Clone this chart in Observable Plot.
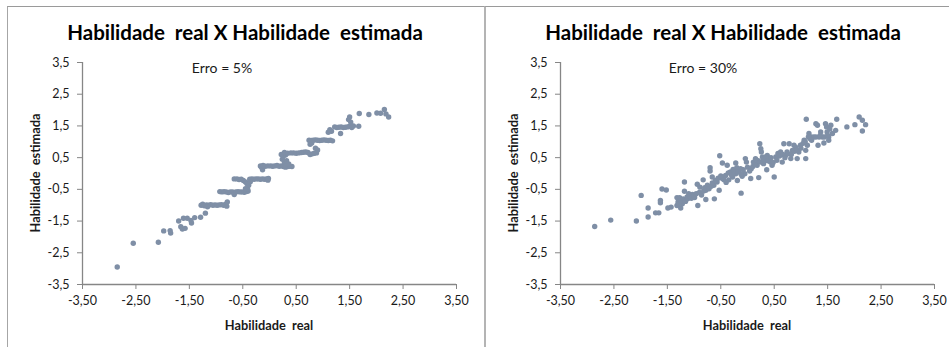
<!DOCTYPE html>
<html><head><meta charset="utf-8">
<script src="https://cdn.jsdelivr.net/npm/d3@7"></script>
<script src="https://cdn.jsdelivr.net/npm/@observablehq/plot@0.6"></script>
<style>
html,body{margin:0;padding:0;background:#fff;}
#page{position:relative;width:949px;height:347px;overflow:hidden;background:#fff;}
.panel{position:absolute;top:6px;height:345px;border-top:1px solid #9a9a9a;}
#p1{left:7px;width:477px;border-left:1px solid #a6a6a6;}
#p2{left:484px;width:470px;border-left:2px solid #b4b4b4;}
.chart{position:absolute;top:0;}
#overlay{position:absolute;left:0;top:0;pointer-events:none;}
</style>
</head><body>
<div id="page">
  <div class="panel" id="p1"></div>
  <div class="panel" id="p2"></div>
  <div class="chart" id="c1" style="left:0px"></div>
  <div class="chart" id="c2" style="left:478px"></div>
</div>
<script>
// ---------- data ----------
const chartTitle = "Habilidade\u00a0 real X Habilidade\u00a0 estimada";
const xAxisTitle = "Habilidade\u00a0 real";
const yAxisTitle = "Habilidade\u00a0 estimada";
const panelNotes = ["Erro = 5%", "Erro = 30%"];

const xTickValues = [-3.5, -2.5, -1.5, -0.5, 0.5, 1.5, 2.5, 3.5];
const xTickLabels = ["-3,50", "-2,50", "-1,50", "-0,50", "0,50", "1,50", "2,50", "3,50"];
const yTickValues = [-3.5, -2.5, -1.5, -0.5, 0.5, 1.5, 2.5, 3.5];
const yTickLabels = ["-3,5", "-2,5", "-1,5", "-0,5", "0,5", "1,5", "2,5", "3,5"];

// [habilidade real, habilidade estimada] — Erro = 5%
const pontosErro5 = [
  [-2.85,-2.95],[-2.55,-2.20],[-2.08,-2.17],[-1.98,-1.81],[-1.86,-1.80],[-1.85,-1.88],
  [-1.70,-1.50],[-1.66,-1.68],[-1.63,-1.75],[-1.58,-1.73],[-1.61,-1.41],[-1.54,-1.41],
  [-1.47,-1.48],[-1.46,-1.56],[-1.40,-1.39],[-1.29,-1.38],[-1.20,-1.25],
  [-1.28,-1.00],[-1.25,-0.97],[-1.22,-1.02],[-1.18,-0.99],[-1.14,-1.00],[-1.10,-0.98],
  [-1.06,-1.00],[-1.02,-0.99],[-0.98,-1.00],[-0.94,-0.99],[-0.90,-0.98],[-0.86,-1.00],
  [-0.82,-0.97],[-0.80,-1.03],[-0.79,-0.90],[-1.16,-1.05],
  [-0.93,-0.57],[-0.89,-0.58],[-0.85,-0.57],[-0.81,-0.58],[-0.77,-0.60],[-0.73,-0.58],
  [-0.69,-0.58],[-0.66,-0.66],[-0.63,-0.58],[-0.59,-0.57],[-0.55,-0.58],[-0.51,-0.58],
  [-0.47,-0.59],[-0.43,-0.57],[-0.40,-0.55],[-0.41,-0.48],[-0.45,-0.48],
  [-0.49,-0.22],[-0.45,-0.27],[-0.42,-0.32],[-0.39,-0.37],
  [-0.66,-0.17],[-0.61,-0.17],[-0.57,-0.19],[-0.53,-0.18],[-0.37,-0.18],[-0.33,-0.17],
  [-0.29,-0.18],[-0.25,-0.17],[-0.21,-0.17],[-0.17,-0.18],[-0.13,-0.17],[-0.09,-0.18],
  [-0.05,-0.17],[-0.02,-0.16],[-0.03,-0.21],[-0.36,-0.26],
  [-0.15,0.20],[-0.13,0.12],
  [-0.17,0.24],[-0.12,0.25],[-0.08,0.23],[-0.03,0.24],[0.02,0.24],[0.06,0.23],[0.10,0.24],
  [0.14,0.25],[0.18,0.23],[0.22,0.24],[0.26,0.22],[0.30,0.20],[0.34,0.22],[0.38,0.23],
  [0.42,0.22],[0.28,0.35],[0.32,0.40],[0.36,0.30],[0.24,0.45],[0.26,0.55],[0.30,0.58],
  [0.22,0.60],[0.28,0.66],[0.34,0.64],[0.40,0.65],[0.45,0.65],[0.50,0.64],[0.55,0.65],
  [0.60,0.66],[0.64,0.67],[0.68,0.68],[0.72,0.66],[0.76,0.60],[0.80,0.62],[0.84,0.64],
  [0.88,0.65],[0.90,0.74],[0.86,0.80],
  [0.74,1.05],[0.78,1.04],[0.82,1.05],[0.86,1.06],[0.90,1.05],[0.94,1.04],[0.98,1.05],
  [1.02,1.06],[1.06,1.05],[1.10,1.04],[1.14,1.05],[1.18,1.03],[0.76,0.92],[0.79,0.96],
  [1.10,1.30],[1.13,1.38],[1.16,1.33],
  [1.22,1.47],[1.26,1.45],[1.30,1.46],[1.34,1.47],[1.38,1.45],[1.42,1.46],[1.46,1.47],
  [1.50,1.49],[1.54,1.45],[1.57,1.50],[1.52,1.62],[1.48,1.70],[1.33,1.26],[1.67,1.49],
  [1.50,1.78],[1.68,1.89],[1.86,1.86],[2.01,1.91],[2.08,1.90],[2.15,2.02],[2.18,1.88],[2.23,1.78]
];

// [habilidade real, habilidade estimada] — Erro = 30%
const pontosErro30 = [
  [-2.86,-1.67],[-2.56,-1.47],[-2.08,-1.50],[-1.99,-0.69],[-1.86,-1.09],[-1.86,-1.37],
  [-1.72,-1.24],[-1.66,-1.24],[-1.63,-0.85],[-1.63,-0.92],[-1.60,-0.49],[-1.52,-0.52],
  [-1.49,-1.09],[-1.43,-1.06],[-1.32,-0.76],[-1.27,-0.76],[-1.32,-1.01],[-1.25,-1.09],
  [-1.22,-0.95],[-1.19,-0.85],[-1.18,-0.27],[-1.18,-0.56],[-1.13,-0.74],[-1.10,-0.64],
  [-1.03,-0.66],[-0.99,-0.76],[-0.94,-0.34],[-0.93,-1.01],[-0.89,-0.43],[-0.83,-0.20],
  [-0.78,-0.53],[-0.78,-0.82],[-0.75,-0.37],[-0.70,0.18],[-0.70,0.08],[-0.66,-0.11],
  [-0.63,-0.37],[-0.62,-0.80],[-0.57,-0.27],[-0.53,-0.53],[-0.52,0.56],[-0.47,0.33],
  [-0.47,-0.16],[-0.41,-0.06],[-0.38,0.26],[-0.35,-0.20],[-0.32,0.05],[-0.28,-0.11],
  [-0.27,0.13],[-0.22,0.33],[-0.22,-0.01],[-0.19,-0.22],[-0.16,0.10],[-0.13,0.15],
  [-0.12,-0.62],[-0.10,-0.09],[-0.05,-0.01],[-0.04,0.47],[-0.02,0.36],[0.06,-0.16],
  [0.07,0.15],[0.11,0.36],[0.15,0.47],[0.18,0.26],[0.21,-0.13],[0.23,0.94],[0.25,0.78],
  [0.26,0.68],[0.28,0.52],[0.30,0.31],[0.32,0.41],[0.36,0.12],[0.37,0.57],[0.40,0.47],
  [0.43,0.36],[0.46,0.26],[0.50,-0.11],[0.53,0.52],[0.57,0.63],[0.62,0.68],[0.65,0.36],
  [0.68,0.94],[0.71,0.57],[0.74,0.68],[0.78,0.94],[0.81,0.47],[0.84,0.73],[0.87,0.89],
  [0.90,0.83],[0.93,0.47],[0.96,0.68],[0.99,0.89],[1.06,1.05],[1.09,0.47],[1.09,0.73],
  [1.10,1.71],[1.12,0.89],[1.15,1.26],[1.17,1.10],[1.19,1.15],[1.24,1.15],[1.28,1.57],
  [1.31,1.52],[1.32,0.89],[1.34,1.15],[1.37,1.31],[1.40,1.15],[1.43,0.96],[1.46,1.57],
  [1.48,1.47],[1.49,1.31],[1.52,1.15],[1.56,1.52],[1.59,1.26],[1.65,1.36],[1.67,1.71],
  [1.86,1.47],[2.01,1.54],[2.09,1.78],[2.15,1.68],[2.15,1.34],[2.21,1.54],
  [-1.30,-0.90],[-1.28,-0.97],[-1.24,-0.85],[-1.20,-0.80],[-1.16,-0.88],[-1.12,-0.80],
  [-1.08,-0.72],[-1.05,-0.78],[-1.00,-0.70],[-0.96,-0.64],[-0.90,-0.60],[-0.86,-0.68],
  [-0.82,-0.55],[-0.80,-0.45],[-0.72,-0.48],[-0.68,-0.40],[-0.66,-0.30],[-0.60,-0.22],
  [-0.55,-0.15],[-0.50,-0.08],[-0.44,-0.20],[-0.40,-0.28],[-0.36,0.02],[-0.30,-0.05],
  [-0.25,0.08],[-0.20,0.18],[-0.18,0.05],[-0.12,-0.02],[-0.08,0.12],[0.00,0.20],
  [0.04,0.08],[0.10,0.22],[0.14,0.30],[0.20,0.40],[0.24,0.36],[0.30,0.45],[0.34,0.52],
  [0.38,0.40],[0.44,0.50],[0.48,0.35],[0.55,0.42],[0.60,0.55],[0.66,0.60],[0.70,0.50],
  [0.76,0.62],[0.82,0.60],[0.88,0.70],[0.92,0.75],[1.00,0.80],[1.04,0.95],[1.08,1.00],
  [1.14,1.15],[1.20,1.05],[1.28,1.15],[1.36,1.20],[1.44,1.15],[1.50,1.20],[1.54,1.40],[1.52,1.05]
];

// ---------- drawing ----------
const axisGray = "#868686";
const dotColor = "#7f8fa6";
const fmtX = d => xTickLabels[xTickValues.indexOf(d)];
const fmtY = d => yTickLabels[yTickValues.indexOf(d)];

function makePlot(points, width, marginRight) {
  const data = points.map(([x, y]) => ({x, y}));
  return Plot.plot({
    width, height: 347,
    marginLeft: 82, marginRight, marginTop: 62, marginBottom: 63,
    style: {fontFamily: "Lato, 'Open Sans', sans-serif", fontSize: "12.5px", color: "#1a1a1a", background: "transparent", overflow: "visible"},
    x: {domain: [-3.5, 3.5], label: null},
    y: {domain: [-3.5, 3.5], label: null},
    marks: [
      Plot.axisX({ticks: xTickValues, tickFormat: fmtX, tickSize: 5, tickPadding: 7, stroke: axisGray, fill: "#1a1a1a", label: null}),
      Plot.axisY({ticks: yTickValues, tickFormat: fmtY, tickSize: 5, tickPadding: 8, stroke: axisGray, fill: "#1a1a1a", label: null}),
      Plot.ruleX([-3.5], {stroke: axisGray, strokeWidth: 1.3}),
      Plot.ruleY([-3.5], {stroke: axisGray, strokeWidth: 1.3}),
      Plot.dot(data, {x: "x", y: "y", r: 2.7, fill: dotColor, stroke: "none"})
    ]
  });
}

document.getElementById("c1").appendChild(makePlot(pontosErro5, 478, 22));
document.getElementById("c2").appendChild(makePlot(pontosErro30, 471, 15));

// titles & labels overlay
const svg = d3.select("#page").append("svg").attr("id", "overlay")
  .attr("width", 949).attr("height", 347)
  .style("font-family", "Lato, 'Open Sans', sans-serif");
const panels = [
  {title: 245, note: 222, xl: 269, yl: 40},
  {title: 723, note: 703, xl: 747, yl: 518}
];
panels.forEach((p, i) => {
  svg.append("text").attr("x", p.title).attr("y", 39.5).attr("text-anchor", "middle")
    .attr("font-weight", "bold").attr("font-size", 20.5).attr("fill", "#000").text(chartTitle);
  svg.append("text").attr("x", p.note).attr("y", 72.5).attr("text-anchor", "middle")
    .attr("font-size", 14).attr("fill", "#1a1a1a").text(panelNotes[i]);
  svg.append("text").attr("x", p.xl).attr("y", 329.5).attr("text-anchor", "middle")
    .attr("font-weight", "bold").attr("font-size", 12.8).attr("fill", "#1a1a1a").text(xAxisTitle);
  svg.append("text").attr("transform", `translate(${p.yl},173) rotate(-90)`).attr("text-anchor", "middle")
    .attr("font-weight", "bold").attr("font-size", 12.8).attr("fill", "#1a1a1a").text(yAxisTitle);
});
</script>
</body></html>
